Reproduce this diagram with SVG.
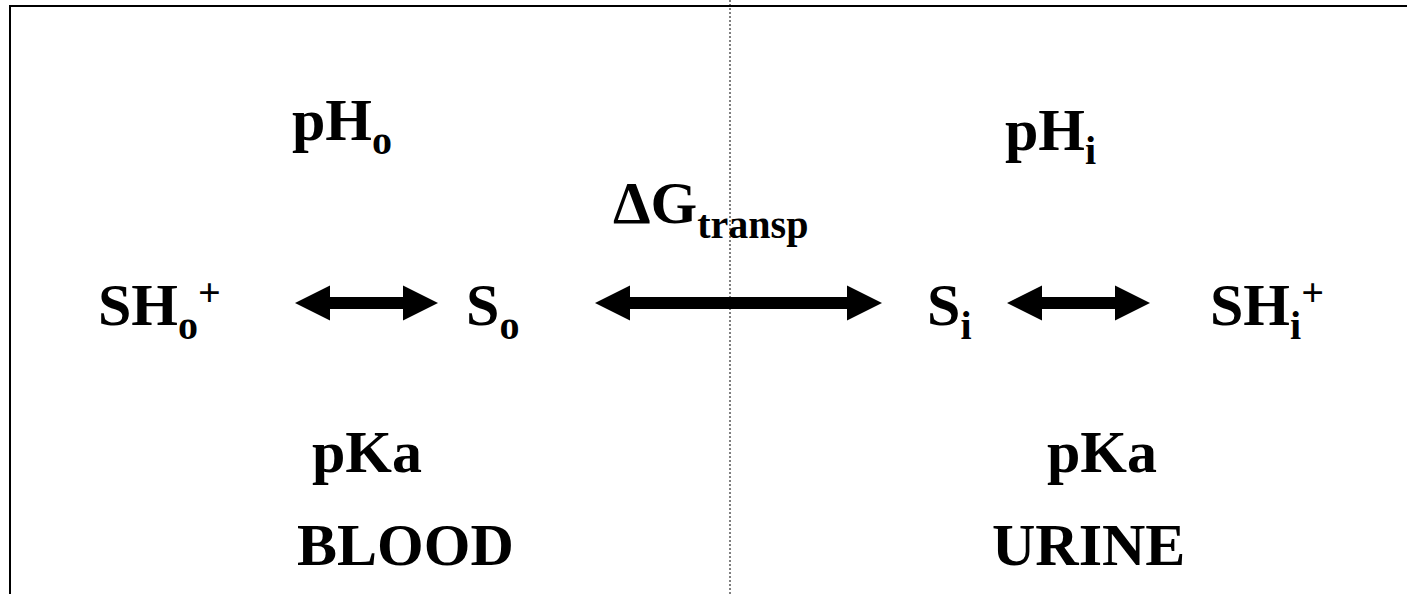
<svg xmlns="http://www.w3.org/2000/svg" width="1407" height="594" viewBox="0 0 1407 594">
  <style>
    .t { font-family: "Liberation Serif", "Times New Roman", serif; font-weight: bold; font-size: 60px; fill: #000; }
    .s { font-size: 40px; }
    .frame { fill: none; stroke: #000; stroke-width: 2; }
    .membrane { stroke: #000; stroke-width: 1; stroke-dasharray: 2 2; }
    .arrow { fill: #000; stroke: none; }
  </style>
  <rect width="1407" height="594" fill="#fff"/>
  <!-- outer frame, open to the right and bottom -->
  <rect class="frame" x="10" y="6" width="1420" height="620"/>
  <!-- membrane between the two compartments -->
  <line class="membrane" x1="730" y1="0" x2="730" y2="594"/>

  <g id="connectors">
    <path class="arrow" d="M295,303 L330,285.5 L330,297 L403,297 L403,285.5 L438,303 L403,320.5 L403,309 L330,309 L330,320.5 Z"/>
    <path class="arrow" d="M595,303 L630,285.5 L630,297 L847,297 L847,285.5 L882,303 L847,320.5 L847,309 L630,309 L630,320.5 Z"/>
    <path class="arrow" d="M1007,303 L1042,285.5 L1042,297 L1115,297 L1115,285.5 L1150,303 L1115,320.5 L1115,309 L1042,309 L1042,320.5 Z"/>
  </g>

  <g id="pH-blood"><text class="t" x="292" y="140">pH<tspan class="s" dy="14">o</tspan></text></g>
  <g id="pH-urine"><text class="t" x="1005" y="150">pH<tspan class="s" dy="14">i</tspan></text></g>
  <g id="dG-transport"><text class="t" x="613" y="223">ΔG<tspan class="s" dy="15">transp</tspan></text></g>

  <g id="SH-blood"><text class="t" x="98" y="325">SH<tspan class="s" dy="14">o</tspan><tspan class="s" dy="-33">+</tspan></text></g>
  <g id="S-blood"><text class="t" x="466" y="325">S<tspan class="s" dy="14">o</tspan></text></g>
  <g id="S-urine"><text class="t" x="927" y="325">S<tspan class="s" dy="14">i</tspan></text></g>
  <g id="SH-urine"><text class="t" x="1210" y="325">SH<tspan class="s" dy="14">i</tspan><tspan class="s" dy="-33">+</tspan></text></g>

  <g id="pKa-blood"><text class="t" x="312" y="472">pKa</text></g>
  <g id="pKa-urine"><text class="t" x="1047" y="472">pKa</text></g>
  <g id="label-blood"><text class="t" x="297" y="565">BLOOD</text></g>
  <g id="label-urine"><text class="t" x="992" y="565">URINE</text></g>
</svg>
